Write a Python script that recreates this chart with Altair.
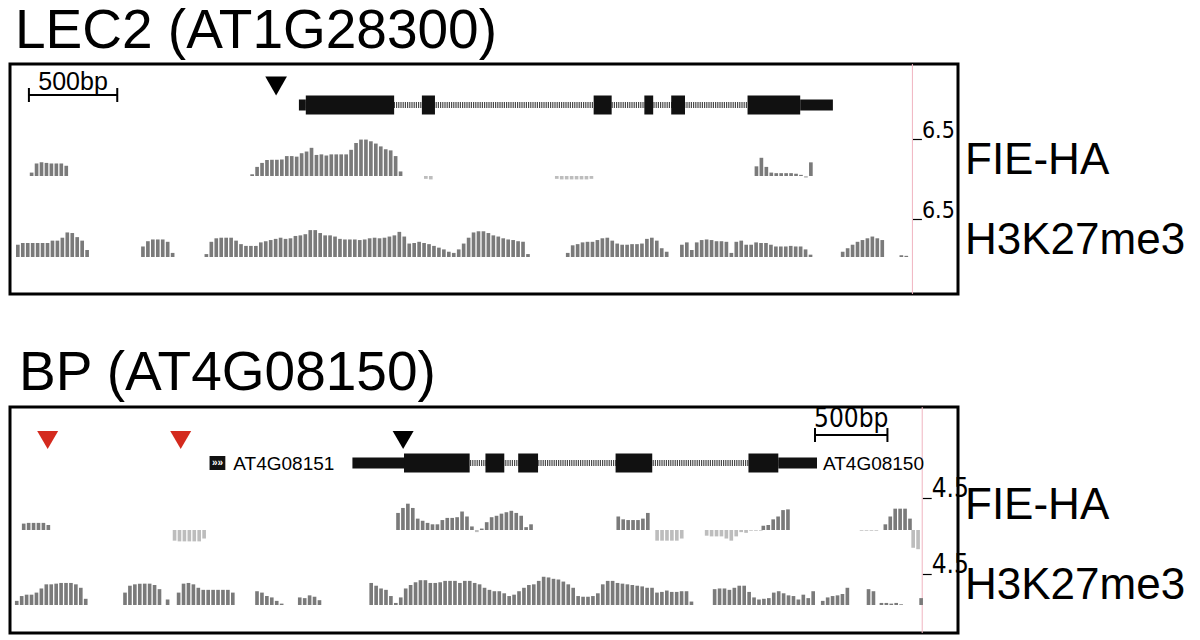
import altair as alt
import pandas as pd

# ---------------------------------------------------------------- data
# Positions are in bp from the left edge of each browser window.
# ---- LEC2 (AT1G28300)
lec2_window = 5365
lec2_bin = 28
lec2_exon_start = [1674, 2331, 3303, 3590, 3742, 4174]
lec2_exon_end = [2174, 2405, 3405, 3640, 3820, 4472]
lec2_utr_start = [1635, 4472]
lec2_utr_end = [1674, 4657]
lec2_scalebar = [107, 607]
lec2_marks_pos = [1506]
lec2_marks_col = ["black"]
lec2_axis_pos = 5107
lec2_max = 6.5

lec2_fie_starts = [112, 1360, 2343, 3084, 4214]
lec2_fie_values = [
    [0.6, 2.2, 2.4, 2.3, 2.2, 2.2, 2.2, 1.8],
    [0.3, 1.6, 2.3, 2.8, 2.85, 2.85, 2.9, 3.5, 3.5, 3.4, 4.0, 4.3, 4.95, 3.7, 3.8, 3.6,
     3.8, 3.8, 3.8, 3.8, 4.6, 5.8, 6.4, 6.4, 6.1, 5.7, 5.2, 4.7, 4.5, 3.5, 0.8],
    [-0.5, -0.6],
    [-0.5, -0.6, -0.6, -0.6, -0.6, -0.6, -0.6, -0.5],
    [1.7, 3.2, 1.6, 0.6, 0.5, 0.5, 0.5, 0.5, 0.4, 0.2, -0.3, 2.4],
]
lec2_h3_starts = [34, 742, 1101, 3146, 3792, 4702, 5034]
lec2_h3_values = [
    [2.1, 2.4, 2.4, 2.4, 2.4, 2.4, 2.4, 2.8, 2.8, 3.3, 4.2, 4.1, 3.4, 2.8, 1.2],
    [1.8, 2.7, 3.0, 3.0, 3.0, 2.6, 0.7],
    [0.5, 2.6, 3.2, 3.3, 3.3, 3.3, 2.8, 2.2, 1.9, 1.9, 1.9, 2.5, 2.7, 2.9, 3.1, 3.3,
     3.1, 3.2, 3.6, 3.7, 3.9, 4.6, 4.6, 4.1, 3.7, 3.7, 3.5, 3.1, 3.0, 3.0, 3.0, 2.9,
     3.0, 3.2, 3.3, 3.2, 3.3, 3.5, 3.7, 4.3, 3.5, 2.3, 2.4, 2.6, 2.4, 2.2, 1.9, 1.6,
     1.3, 0.9, 0.7, 1.3, 2.3, 3.3, 4.2, 4.4, 4.4, 4.1, 3.7, 3.5, 3.2, 3.0, 2.9, 2.7,
     2.6, 0.5],
    [0.7, 2.0, 2.2, 2.5, 2.6, 2.6, 2.9, 3.2, 3.3, 2.8, 2.3, 2.1, 2.1, 2.2, 2.2, 2.3,
     3.1, 3.3, 2.8, 1.5, 0.9],
    [2.1, 2.5, 1.2, 2.5, 2.9, 3.0, 2.9, 2.7, 2.7, 2.6, 0.7, 2.6, 2.8, 2.1, 2.1, 2.5,
     2.4, 2.4, 2.1, 1.8, 1.8, 1.8, 1.9, 1.8, 1.8, 1.3, 0.4],
    [0.9, 1.5, 2.1, 2.6, 2.9, 3.2, 3.5, 3.2, 2.9],
    [0.3, 0.2],
]

# ---- BP (AT4G08150)
bp_window = 6542
bp_bin = 34
bp_exon_start = [2719, 3281, 3507, 4179, 5096]
bp_exon_end = [3172, 3411, 3644, 4432, 5302]
bp_utr_start = [2363, 5302]
bp_utr_end = [2719, 5569]
bp_scalebar = [5555, 6055]
bp_marks_pos = [260, 1178, 2713]
bp_marks_col = ["#d42a1e", "#d42a1e", "black"]
bp_neighbor_gene = [1377, 1486]
bp_gene_names = ["AT4G08151", "AT4G08150"]
bp_gene_name_pos = [1541, 5610]
bp_axis_pos = 6295
bp_max = 4.5

bp_fie_starts = [82, 1123, 2665, 4185, 4453, 4795, 5186, 5864, 6028, 6220]
bp_fie_values = [
    [0.9, 1.0, 1.0, 1.0, 1.0, 0.7],
    [-1.5, -1.6, -1.6, -1.6, -1.6, -1.6, -1.2],
    [2.4, 3.1, 3.7, 3.1, 1.6, 1.3, 1.0, 0.8, 0.8, 1.4, 1.7, 1.7, 1.8, 2.6, 1.9, 0.5,
     -0.3, 0.2, 1.1, 1.8, 2.0, 2.3, 2.5, 2.7, 2.4, 2.0, 0.4, 0.8],
    [1.9, 1.5, 1.4, 1.4, 1.4, 1.6, 2.4],
    [-1.5, -1.5, -1.5, -1.5, -1.5, -1.2],
    [-0.8, -0.9, -0.9, -0.9, -1.2, -1.5, -0.9, -0.3, -0.4, -0.1, -0.1, -0.1],
    [0.6, 0.7, 1.5, 1.9, 2.8, 2.9],
    [-0.1, -0.1, -0.1, -0.1],
    [0.8, 1.9, 3.0, 3.0, 3.0, 1.6],
    [-2.5, -2.7],
]
bp_h3_starts = [34, 781, 1075, 1151, 1692, 1987, 2480, 4850, 5596, 5912, 6001, 6275]
bp_h3_values = [
    [0.6, 1.3, 1.5, 1.5, 1.8, 2.4, 3.0, 3.0, 3.1, 3.2, 3.2, 3.2, 3.0, 2.5, 0.9],
    [1.8, 2.8, 3.0, 3.1, 3.1, 3.1, 2.9, 2.3],
    [0.8],
    [1.8, 3.1, 3.2, 3.0, 2.5, 2.2, 2.2, 2.2, 2.2, 2.2, 2.2, 1.8],
    [2.0, 1.8, 1.3, 1.1, 0.6, 0.2],
    [1.1, 1.0, 1.4, 1.2, 0.7],
    [3.2, 2.8, 2.4, 2.2, 1.3, 0.3, 1.1, 2.4, 2.9, 3.3, 3.6, 3.6, 3.2, 3.2, 3.3, 3.5,
     3.5, 3.5, 3.2, 3.5, 3.5, 3.2, 3.0, 2.5, 2.2, 2.0, 2.0, 1.7, 1.3, 1.5, 2.0, 2.5,
     2.9, 3.0, 3.5, 4.1, 4.0, 3.8, 3.7, 3.4, 3.0, 2.5, 1.3, 1.2, 1.2, 1.3, 1.7, 3.0,
     3.5, 3.5, 3.2, 3.1, 3.0, 2.9, 2.8, 2.7, 2.5, 2.5, 1.8, 1.9, 2.1, 1.9, 1.9, 2.0,
     2.0, 0.5],
    [2.3, 2.4, 2.4, 2.2, 2.5, 2.8, 2.8, 1.9, 1.1, 0.8, 0.9, 1.0, 1.8, 2.0, 1.7, 1.4,
     1.3, 0.8, 1.5, 1.0, 2.0],
    [0.6, 1.1, 1.3, 1.4, 1.6, 2.5],
    [2.3, 2.0],
    [0.3, 0.3, 0.2, 0.3, 0.1],
    [1.0],
]

# ---------------------------------------------------------------- style
SANS = "Liberation Sans, Arial, Helvetica, sans-serif"
NARROW = "Liberation Sans Narrow, DejaVu Sans Condensed, Liberation Sans, sans-serif"
POS = "#7a7a7a"
NEG = "#bdbdbd"
W = 948


def track_df(starts, values, binsize):
    rows = []
    for s, vals in zip(starts, values):
        for i, v in enumerate(vals):
            x0 = s + i * binsize
            rows.append({"x0": x0, "x1": x0 + binsize * 0.74, "v": v, "z": 0.0})
    return pd.DataFrame(rows)


def panel(title, window, binsize, exon_s, exon_e, utr_s, utr_e, scalebar, marks_pos,
          marks_col, axis_pos, vmax, fie_s, fie_v, h3_s, h3_v, lay, extra=None):
    H = lay["H"]
    xs = alt.Scale(domain=[0, window], nice=False, zero=False)
    X = lambda f: alt.X(f, type="quantitative", scale=xs, axis=None)
    axis_off = -(W - axis_pos / window * W)

    pink = alt.Chart(pd.DataFrame({"x": [axis_pos]})).mark_rule(
        color="#f0b4c0", strokeWidth=1).encode(x=X("x"), y=alt.value(0), y2=alt.value(H))

    def track(df, base, top, lsize):
        return alt.Chart(df).mark_rect().encode(
            x=X("x0"), x2="x1",
            y=alt.Y("v:Q", scale=alt.Scale(domain=[0, vmax], range=[base, top], nice=False, zero=False),
                    axis=alt.Axis(orient="right", offset=axis_off, values=[vmax], domain=False,
                                  grid=False, tickSize=9, tickColor="black", tickWidth=1.2,
                                  labelFont=NARROW, labelFontSize=lsize, labelColor="black",
                                  labelPadding=0, labelAlign="left", labelBaseline="alphabetic",
                                  labelOffset=-2, title=None, format=".1f", labelFlush=False)),
            y2="z:Q",
            color=alt.condition("datum.v < 0", alt.value(NEG), alt.value(POS)),
        )

    fie = track(track_df(fie_s, fie_v, binsize), lay["fie_base"], lay["fie_top"], lay["lsize"])
    h3 = track(track_df(h3_s, h3_v, binsize), lay["h3_base"], lay["h3_top"], lay["lsize"])

    gy = lay["gene_y"]
    intron = alt.Chart(pd.DataFrame({"a": [min(exon_s)], "b": [max(exon_e)]})).mark_rule(
        color="#4a4a4a", strokeWidth=6, strokeDash=[1.2, 1]).encode(
        x=X("a"), x2="b", y=alt.value(gy))
    utr = alt.Chart(pd.DataFrame({"a": utr_s, "b": utr_e})).mark_rect(color="#111111").encode(
        x=X("a"), x2="b", y=alt.value(gy - 5.5), y2=alt.value(gy + 5.5))
    exons = alt.Chart(pd.DataFrame({"a": exon_s, "b": exon_e})).mark_rect(color="#111111").encode(
        x=X("a"), x2="b", y=alt.value(gy - 9.5), y2=alt.value(gy + 9.5))

    sy = lay["sb_y"]
    sb = alt.Chart(pd.DataFrame({"a": [scalebar[0]], "b": [scalebar[1]]})).mark_rule(
        color="black", strokeWidth=2).encode(x=X("a"), x2="b", y=alt.value(sy))
    sbt = alt.Chart(pd.DataFrame({"x": scalebar})).mark_rule(color="black", strokeWidth=2).encode(
        x=X("x"), y=alt.value(sy - 7), y2=alt.value(sy + 7))
    sbl = alt.Chart(pd.DataFrame({"x": [sum(scalebar) / 2], "t": [f"{scalebar[1]-scalebar[0]}bp"]})).mark_text(
        font=lay["sb_font"], fontSize=lay["sb_size"], baseline="alphabetic", align="center",
        color="black").encode(x=X("x"), y=alt.value(lay["sb_text_y"]), text="t:N")

    tri = alt.Chart(pd.DataFrame({"x": marks_pos, "c": marks_col})).mark_point(
        shape="triangle-down", filled=True, opacity=1, size=lay["tri_size"], strokeWidth=0).encode(
        x=X("x"), y=alt.value(lay["tri_y"]), color=alt.Color("c:N", scale=None))

    lab_fie = alt.Chart(pd.DataFrame({"t": ["FIE-HA"]})).mark_text(
        font=SANS, fontSize=44, align="left", baseline="middle", color="black").encode(
        x=alt.value(W + 7), y=alt.value(lay["fie_lab"]), text="t:N")
    lab_h3 = alt.Chart(pd.DataFrame({"t": ["H3K27me3"]})).mark_text(
        font=SANS, fontSize=44, align="left", baseline="middle", color="black").encode(
        x=alt.value(W + 7), y=alt.value(lay["h3_lab"]), text="t:N")

    layers = [pink, fie, h3, intron, utr, exons, sb, sbt, sbl, tri, lab_fie, lab_h3]
    if extra is not None:
        layers += extra(X, gy)

    return alt.layer(*layers).resolve_scale(y="independent").properties(
        width=W, height=H,
        title=alt.Title(title, font=SANS, fontSize=lay["tsize"], fontWeight="normal", anchor="start",
                        color="black", dx=lay["tdx"], offset=4),
    )


def bp_extra(X, gy):
    icon = alt.Chart(pd.DataFrame({"a": [bp_neighbor_gene[0]], "b": [bp_neighbor_gene[1]]})).mark_rect(
        color="#111111").encode(x=X("a"), x2="b", y=alt.value(gy - 7), y2=alt.value(gy + 7))
    chev = alt.Chart(pd.DataFrame({"x": [sum(bp_neighbor_gene) / 2], "t": ["»»"]})).mark_text(
        color="white", fontSize=10, font=SANS, fontWeight="bold", baseline="middle").encode(
        x=X("x"), y=alt.value(gy), text="t:N")
    names = alt.Chart(pd.DataFrame({"x": bp_gene_name_pos, "t": bp_gene_names})).mark_text(
        font=SANS, fontSize=19, align="left", baseline="middle", color="black").encode(
        x=X("x"), y=alt.value(gy + 1), text="t:N")
    return [icon, chev, names]


p1 = panel("LEC2 (AT1G28300)", lec2_window, lec2_bin, lec2_exon_start, lec2_exon_end,
           lec2_utr_start, lec2_utr_end, lec2_scalebar, lec2_marks_pos, lec2_marks_col,
           lec2_axis_pos, lec2_max, lec2_fie_starts, lec2_fie_values, lec2_h3_starts,
           lec2_h3_values,
           dict(H=230, gene_y=41, sb_y=31, sb_text_y=26, sb_font=SANS, sb_size=25, tri_y=22,
                tri_size=470, fie_base=112, fie_top=75, h3_base=193, h3_top=155, lsize=23,
                fie_lab=97, h3_lab=177, tsize=55, tdx=5))
p2 = panel("BP (AT4G08150)", bp_window, bp_bin, bp_exon_start, bp_exon_end,
           bp_utr_start, bp_utr_end, bp_scalebar, bp_marks_pos, bp_marks_col,
           bp_axis_pos, bp_max, bp_fie_starts, bp_fie_values, bp_h3_starts, bp_h3_values,
           dict(H=226, gene_y=56, sb_y=28, sb_text_y=20, sb_font=NARROW, sb_size=26, tri_y=33,
                tri_size=440, fie_base=123, fie_top=91, h3_base=198, h3_top=167, lsize=26,
                fie_lab=99, h3_lab=179, tsize=55, tdx=9),
           extra=bp_extra)

chart = alt.vconcat(p1, p2, spacing=48).resolve_scale(x="independent").configure_view(
    stroke="black", strokeWidth=3).properties(
    padding={"left": 0, "top": -6, "right": 2, "bottom": 2}, background="white")

chart.save("out.html", embed_options={"renderer": "svg", "actions": False})
